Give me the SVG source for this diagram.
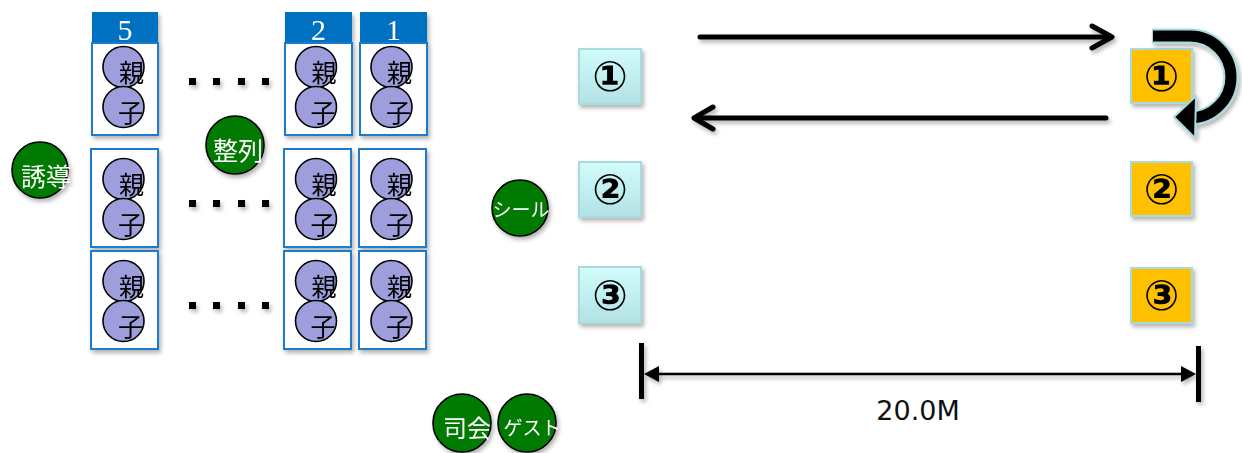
<svg xmlns="http://www.w3.org/2000/svg" width="1242" height="453" viewBox="0 0 1242 453">
<defs>
<filter id="sh" x="-30%" y="-30%" width="160%" height="160%">
<feDropShadow dx="2" dy="3" stdDeviation="2" flood-color="#000" flood-opacity="0.3"/>
</filter>
<linearGradient id="cy" x1="0" y1="0" x2="0" y2="1">
<stop offset="0" stop-color="#D2FCFC"/>
<stop offset="1" stop-color="#B3E2E4"/>
</linearGradient>
<g id="pair">
<circle cx="0" cy="0" r="20.5" class="pc"/>
<text x="8" y="15" class="pt">親</text>
<circle cx="0" cy="40" r="20.5" class="pc"/>
<text x="7" y="55" class="pt">子</text>
</g>
</defs>
<style>
.box{fill:#fff;stroke:#1C7BCB;stroke-width:2}
.hdr{fill:#0070C0}
.hn{fill:#fff;font-family:"Liberation Serif",serif;font-size:30px;text-anchor:middle}
.pc{fill:#9E9EDC;stroke:#000;stroke-width:1.6}
.pt{font-family:"Noto Sans CJK JP",sans-serif;font-size:25px;text-anchor:middle;fill:#000}
.gc{fill:#007A00;stroke:#000;stroke-width:1.6}
.gt{fill:#fff;font-family:"Noto Sans CJK JP",sans-serif;text-anchor:middle}
.dot{fill:#000}
.cb{fill:url(#cy);stroke:#A9DADD;stroke-width:2}
.ob{fill:#FFC000;stroke:#A9DADD;stroke-width:2}
.cn{font-family:"DejaVu Sans",sans-serif;font-weight:bold;font-size:42px;text-anchor:middle;dominant-baseline:central;fill:#000}
.ln{fill:none;stroke:#000;stroke-width:5;stroke-linecap:round;stroke-linejoin:round}
</style>

<!-- seat columns -->
<g id="col5" filter="url(#sh)">
<rect class="hdr" x="92" y="12" width="66" height="31"/>
<text class="hn" x="125" y="40">5</text>
<rect class="box" x="92" y="43" width="66" height="92"/>
<use href="#pair" x="123.5" y="67"/>
</g>
<g id="col2" filter="url(#sh)">
<rect class="hdr" x="285" y="12" width="67" height="31"/>
<text class="hn" x="318.5" y="40">2</text>
<rect class="box" x="285" y="43" width="67" height="92"/>
<use href="#pair" x="316" y="67"/>
</g>
<g id="col1" filter="url(#sh)">
<rect class="hdr" x="360" y="12" width="67" height="31"/>
<text class="hn" x="393.5" y="40">1</text>
<rect class="box" x="360" y="43" width="67" height="92"/>
<use href="#pair" x="391.5" y="67"/>
</g>
<g id="r2c5" filter="url(#sh)">
<rect class="box" x="91" y="149" width="67" height="98"/>
<use href="#pair" x="123.5" y="179"/>
</g>
<g id="r2c2" filter="url(#sh)">
<rect class="box" x="284" y="149" width="67" height="98"/>
<use href="#pair" x="316" y="179"/>
</g>
<g id="r2c1" filter="url(#sh)">
<rect class="box" x="359" y="149" width="67" height="98"/>
<use href="#pair" x="391.5" y="179"/>
</g>
<g id="r3c5" filter="url(#sh)">
<rect class="box" x="91" y="251" width="67" height="98"/>
<use href="#pair" x="123.5" y="281"/>
</g>
<g id="r3c2" filter="url(#sh)">
<rect class="box" x="284" y="251" width="67" height="98"/>
<use href="#pair" x="316" y="281"/>
</g>
<g id="r3c1" filter="url(#sh)">
<rect class="box" x="359" y="251" width="67" height="98"/>
<use href="#pair" x="391.5" y="281"/>
</g>

<!-- ellipsis dots -->
<g id="dots" filter="url(#sh)">
<rect class="dot" x="189" y="78" width="7" height="7"/>
<rect class="dot" x="213" y="78" width="7" height="7"/>
<rect class="dot" x="238" y="78" width="7" height="7"/>
<rect class="dot" x="262" y="78" width="7" height="7"/>
<rect class="dot" x="189" y="200" width="7" height="7"/>
<rect class="dot" x="213" y="200" width="7" height="7"/>
<rect class="dot" x="238" y="200" width="7" height="7"/>
<rect class="dot" x="262" y="200" width="7" height="7"/>
<rect class="dot" x="189" y="302" width="7" height="7"/>
<rect class="dot" x="213" y="302" width="7" height="7"/>
<rect class="dot" x="238" y="302" width="7" height="7"/>
<rect class="dot" x="262" y="302" width="7" height="7"/>
</g>

<!-- staff -->
<g id="yudo" filter="url(#sh)">
<circle class="gc" cx="40" cy="170" r="28"/>
<text class="gt" x="46" y="186" font-size="25">誘導</text>
</g>
<g id="seiretsu" filter="url(#sh)">
<circle class="gc" cx="235" cy="145" r="29"/>
<text class="gt" x="238" y="160" font-size="25">整列</text>
</g>
<g id="seal" filter="url(#sh)">
<circle class="gc" cx="520" cy="208" r="28"/>
<text class="gt" x="521" y="217" font-size="19">シール</text>
</g>
<g id="shikai" filter="url(#sh)">
<circle class="gc" cx="462" cy="423" r="29"/>
<text class="gt" x="467" y="437" font-size="24">司会</text>
</g>
<g id="guest" filter="url(#sh)">
<circle class="gc" cx="527" cy="423" r="29"/>
<text class="gt" x="532" y="435" font-size="19">ゲスト</text>
</g>

<!-- start / turn markers -->
<g id="s1" filter="url(#sh)">
<rect class="cb" x="579" y="49" width="62" height="55"/>
<text class="cn" x="610" y="76">①</text>
</g>
<g id="s2" filter="url(#sh)">
<rect class="cb" x="579" y="162" width="62" height="55"/>
<text class="cn" x="610" y="189">②</text>
</g>
<g id="s3" filter="url(#sh)">
<rect class="cb" x="579" y="267" width="62" height="56"/>
<text class="cn" x="610" y="295">③</text>
</g>
<g id="t1" filter="url(#sh)">
<rect class="ob" x="1131" y="49" width="61" height="54"/>
<text class="cn" x="1161.5" y="76">①</text>
</g>
<g id="t2" filter="url(#sh)">
<rect class="ob" x="1131" y="162" width="61" height="54"/>
<text class="cn" x="1161.5" y="189">②</text>
</g>
<g id="t3" filter="url(#sh)">
<rect class="ob" x="1131" y="268" width="61" height="55"/>
<text class="cn" x="1161.5" y="295">③</text>
</g>

<!-- connectors -->
<g id="connectors">
<g filter="url(#sh)">
<line class="ln" x1="700" y1="37" x2="1110" y2="37"/>
<polyline class="ln" points="1092,26 1112,37 1092,48"/>
<line class="ln" x1="1106" y1="118" x2="697" y2="118"/>
<polyline class="ln" points="713,107 694,118 713,129"/>
</g>
<g id="uturn" filter="url(#sh)">
<path d="M1152,36 H1190 A41,41 0 0 1 1190,118 H1194" fill="none" stroke="#A9DADD" stroke-width="15"/>
<path d="M1153,36 H1190 A41,41 0 0 1 1190,118 H1194" fill="none" stroke="#000" stroke-width="11"/>
<polygon points="1174,117 1196,96 1195,138" fill="#000" stroke="#A9DADD" stroke-width="2" stroke-linejoin="round"/>
</g>
<g id="dimension" filter="url(#sh)">
<rect x="639" y="343" width="5" height="56" fill="#000"/>
<rect x="1196" y="346" width="5" height="56" fill="#000"/>
<line x1="650" y1="374" x2="1190" y2="374" stroke="#000" stroke-width="2.5"/>
<polygon points="644,374 659,366 659,382" fill="#000"/>
<polygon points="1196,374 1181,366 1181,382" fill="#000"/>
</g>
</g>
<text x="918" y="420" font-family="DejaVu Sans, Verdana, sans-serif" font-size="27" text-anchor="middle" fill="#111">20.0M</text>
</svg>
